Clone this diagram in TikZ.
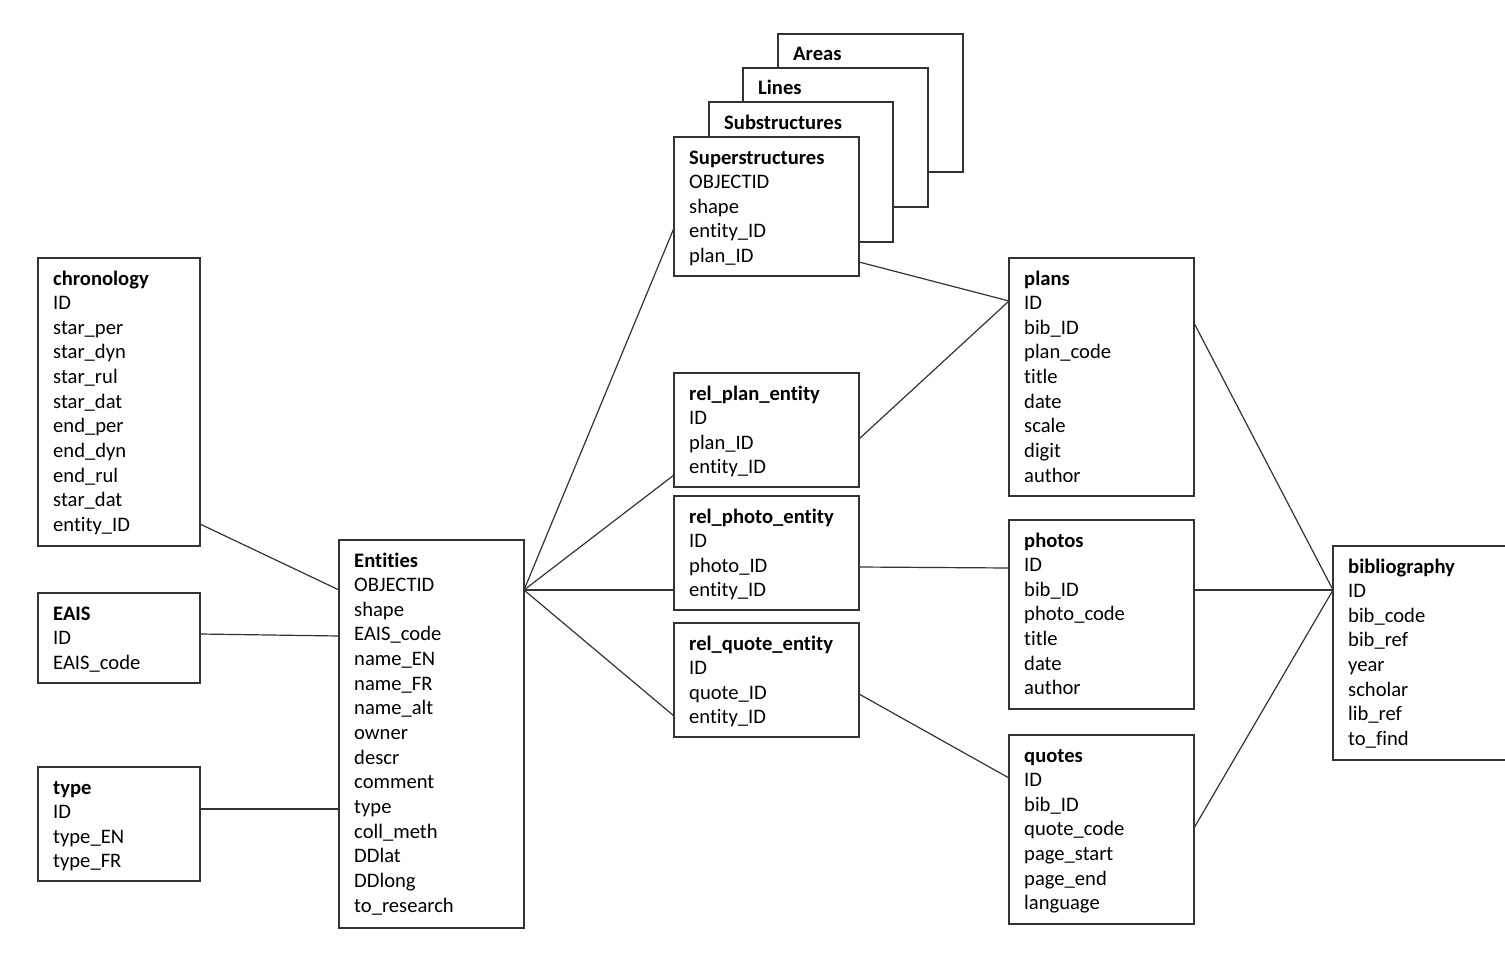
\documentclass[tikz,border=0pt]{standalone}
\usepackage{fontspec}
\setmainfont{Carlito}[Ligatures=CommonOff]
\tikzset{
  tbl/.style={draw=black!80, line width=1.2pt, fill=white, rectangle, inner sep=0pt, outer sep=0pt, anchor=north west},
  fld/.style={anchor=base west, inner sep=0pt, font=\fontsize{20.6}{24}\selectfont},
  ttl/.style={anchor=base west, inner sep=0pt, font=\fontsize{20.6}{24}\selectfont\bfseries},
  conn/.style={draw=black!80, line width=1.2pt},
}
\newcommand{\dbtable}[7]{%
  \node[tbl, minimum width=#4pt, minimum height=#5pt] (#1) at (#2,#3) {};
  \node[ttl] (#1-t) at (#2+15,#3+27) {#6};
  \foreach \f [count=\i] in {#7} {\node[fld] (#1-\i) at (#2+15,#3+27+24.65*\i) {\f};}
}
\newcommand{\dbhead}[6]{%
  \node[tbl, minimum width=#4pt, minimum height=#5pt] (#1) at (#2,#3) {};
  \node[ttl] (#1-t) at (#2+15,#3+27) {#6};
}
\begin{document}
\begin{tikzpicture}[x=1pt,y=-1pt]
\useasboundingbox (0,0) rectangle (1505,966);

% left tables
\dbtable{chron}{38}{258}{162}{288}{chronology}{ID,star\_per,star\_dyn,star\_rul,star\_dat,end\_per,end\_dyn,end\_rul,star\_dat,entity\_ID}
\dbtable{eais}{38}{593}{162}{90}{EAIS}{ID,EAIS\_code}
\dbtable{type}{38}{767}{162}{114}{type}{ID,type\_EN,type\_FR}

% entities
\dbtable{ent}{339}{540}{185}{388}{Entities}{OBJECTID,shape,EAIS\_code,name\_EN,name\_FR,name\_alt,owner,descr,comment,type,coll\_meth,DDlat,DDlong,to\_research}

% stacked layers
\dbhead{areas}{778}{34}{185}{138}{Areas}
\dbhead{lines}{743}{68}{185}{139}{Lines}
\dbhead{sub}{709}{102}{184}{140}{Substructures}
\dbtable{sup}{674}{137}{185}{139}{Superstructures}{OBJECTID,shape,entity\_ID,plan\_ID}

% relation tables
\dbtable{rplan}{674}{373}{185}{114}{rel\_plan\_entity}{ID,plan\_ID,entity\_ID}
\dbtable{rphoto}{674}{496}{185}{114}{rel\_photo\_entity}{ID,photo\_ID,entity\_ID}
\dbtable{rquote}{674}{623}{185}{114}{rel\_quote\_entity}{ID,quote\_ID,entity\_ID}

% source tables
\dbtable{plans}{1009}{258}{185}{238}{plans}{ID,bib\_ID,plan\_code,title,date,scale,digit,author}
\dbtable{photos}{1009}{520}{185}{189}{photos}{ID,bib\_ID,photo\_code,title,date,author}
\dbtable{quotes}{1009}{735}{185}{189}{quotes}{ID,bib\_ID,quote\_code,page\_start,page\_end,language}

% bibliography (runs off the right edge)
\node[tbl, draw=none, minimum width=172pt, minimum height=214pt] (bib) at (1333,546) {};
\draw[conn] (bib.north east) -- (bib.north west) -- (bib.south west) -- (bib.south east);
\node[ttl] (bib-t) at (1348,573) {bibliography};
\foreach \f [count=\i] in {ID,bib\_code,bib\_ref,year,scholar,lib\_ref,to\_find}
  {\node[fld] (bib-\i) at (1348,573+24.65*\i) {\f};}

% connectors
\draw[conn] ([yshift=-266pt]chron.north east) -- ([yshift=-50pt]ent.north west);
\draw[conn] ([yshift=-41pt]eais.north east) -- ([yshift=-96pt]ent.north west);
\draw[conn] ([yshift=-42pt]type.north east) -- ([yshift=-269pt]ent.north west);

\draw[conn] ([yshift=-50pt]ent.north east) -- ([yshift=-91pt]sup.north west);
\draw[conn] ([yshift=-50pt]ent.north east) -- ([yshift=-102pt]rplan.north west);
\draw[conn] ([yshift=-50pt]ent.north east) -- ([yshift=-94pt]rphoto.north west);
\draw[conn] ([yshift=-50pt]ent.north east) -- ([yshift=-93pt]rquote.north west);

\draw[conn] ([yshift=-125pt]sup.north east) -- ([yshift=-43pt]plans.north west);
\draw[conn] ([yshift=-66pt]rplan.north east) -- ([yshift=-43pt]plans.north west);
\draw[conn] ([yshift=-71pt]rphoto.north east) -- ([yshift=-48pt]photos.north west);
\draw[conn] ([yshift=-71pt]rquote.north east) -- ([yshift=-43pt]quotes.north west);

\draw[conn] ([yshift=-65pt]plans.north east) -- ([yshift=-44pt]bib.north west);
\draw[conn] ([yshift=-70pt]photos.north east) -- ([yshift=-44pt]bib.north west);
\draw[conn] ([yshift=-93pt]quotes.north east) -- ([yshift=-44pt]bib.north west);
\end{tikzpicture}
\end{document}
